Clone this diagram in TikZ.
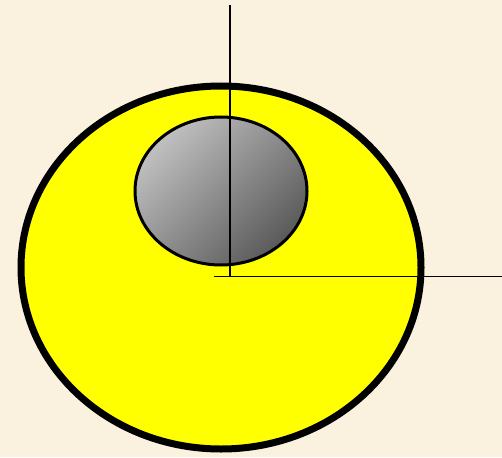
\documentclass[tikz,border=0pt]{standalone}
\usepackage{xcolor}
\definecolor{parchment}{HTML}{FAF1DE}
\definecolor{sunyellow}{HTML}{FFFF00}
\definecolor{lightgrey}{HTML}{C0C0C0}
\definecolor{darkgrey}{HTML}{5A5A5A}

\begin{document}
\begin{tikzpicture}[x=1pt, y=-1pt,
  outer/.style={draw=black, line width=7pt, fill=sunyellow},
  inner/.style={draw=black, line width=3pt, shading=axis,
                top color=lightgrey, bottom color=darkgrey, shading angle=45},
  axis line/.style={draw=black, line width=1.8pt},
]
% background
\fill[parchment] (0,0) rectangle (502,457);
\useasboundingbox (0,0) rectangle (502,457);
% bodies
\path[outer] (221,267.5) ellipse [x radius=200, y radius=181.5];
\path[inner] (221,191) ellipse [x radius=86, y radius=74];
% axes
\coordinate (vtop) at (230,5);
\coordinate (vbot) at (230,276);
\coordinate (hleft) at (214,276.5);
\coordinate (hright) at (502,276.5);
\draw[axis line] (vtop) -- (vbot);
\draw[axis line] (hleft) -- (hright);
\end{tikzpicture}
\end{document}
